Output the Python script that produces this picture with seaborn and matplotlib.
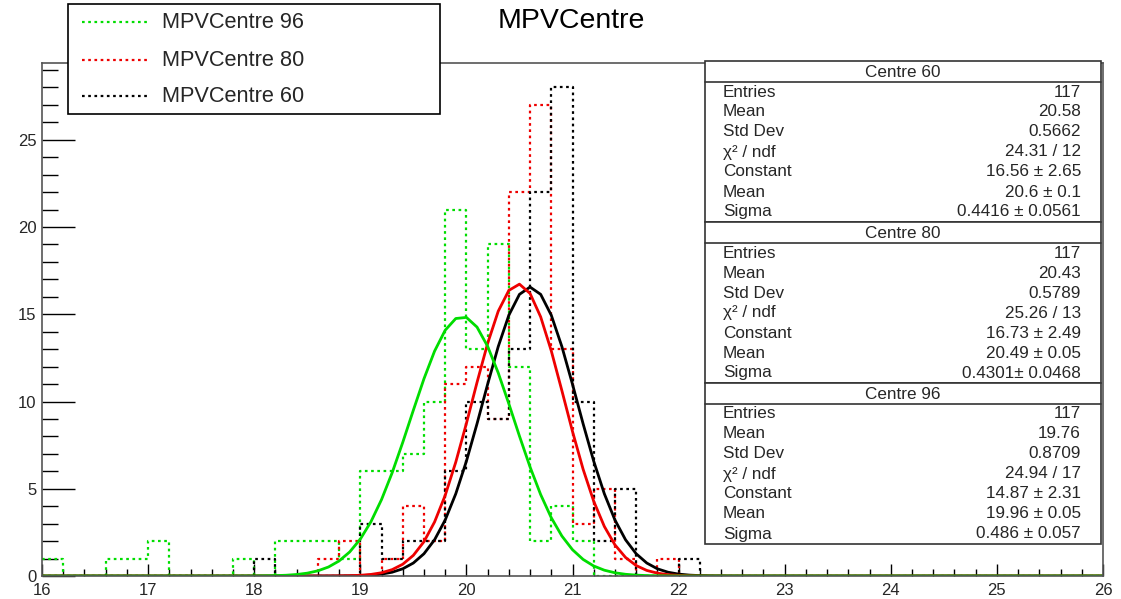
import numpy as np
import pandas as pd
import matplotlib
matplotlib.use("Agg")
import matplotlib.pyplot as plt
from matplotlib.patches import Rectangle
from matplotlib.lines import Line2D
from matplotlib.ticker import MultipleLocator
import seaborn as sns

# ---------------------------------------------------------------- binning
x_lo, x_hi, n_bins = 16.0, 26.0, 50
bin_edges = np.linspace(x_lo, x_hi, n_bins + 1)
bin_centres = 0.5 * (bin_edges[:-1] + bin_edges[1:])

# ---------------------------------------------------------------- bin contents (50 bins of 0.2)
counts_96 = [1, 0, 0, 1, 1, 2, 0, 0, 0, 1,
             0, 2, 2, 2, 1, 6, 6, 7, 10, 21,
             13, 19, 12, 2, 4, 2, 0, 0, 0, 0,
             0, 0, 0, 0, 0, 0, 0, 0, 0, 0,
             0, 0, 0, 0, 0, 0, 0, 0, 0, 0]
counts_80 = [0, 0, 0, 0, 0, 0, 0, 0, 0, 0,
             0, 0, 0, 1, 2, 0, 1, 4, 2, 11,
             12, 9, 22, 27, 13, 3, 5, 1, 0, 1,
             0, 0, 0, 0, 0, 0, 0, 0, 0, 0,
             0, 0, 0, 0, 0, 0, 0, 0, 0, 0]
counts_60 = [0, 0, 0, 0, 0, 0, 0, 0, 0, 0,
             1, 0, 0, 0, 0, 3, 1, 2, 2, 6,
             10, 9, 13, 22, 28, 10, 2, 5, 0, 0,
             1, 0, 0, 0, 0, 0, 0, 0, 0, 0,
             0, 0, 0, 0, 0, 0, 0, 0, 0, 0]

# ---------------------------------------------------------------- gaussian fit results (constant, mean, sigma)
fit_60 = (16.56, 20.6, 0.4416)
fit_80 = (16.73, 20.49, 0.4301)
fit_96 = (14.87, 19.96, 0.486)

# ---------------------------------------------------------------- statistics boxes
stat_names = ["Entries", "Mean", "Std Dev", "\u03c7\u00b2 / ndf", "Constant", "Mean", "Sigma"]
stats_60 = ["117", "20.58", "0.5662", "24.31 / 12", "16.56 \u00b1 2.65", "20.6 \u00b1 0.1", "0.4416 \u00b1 0.0561"]
stats_80 = ["117", "20.43", "0.5789", "25.26 / 13", "16.73 \u00b1 2.49", "20.49 \u00b1 0.05", "0.4301\u00b1 0.0468"]
stats_96 = ["117", "19.76", "0.8709", "24.94 / 17", "14.87 \u00b1 2.31", "19.96 \u00b1 0.05", "0.486 \u00b1 0.057"]

legend_labels = ["MPVCentre 96", "MPVCentre 80", "MPVCentre 60"]
stat_titles = ["Centre 60", "Centre 80", "Centre 96"]

col_green = "#00dd00"
col_red = "#ee0000"
col_black = "#000000"

sns.set_theme(style="white")
plt.rcParams["font.family"] = ["Liberation Sans", "DejaVu Sans"]

W, H = 1121, 599
fig = plt.figure(figsize=(W / 100, H / 100), dpi=100)
fig.patch.set_facecolor("white")


def fx(px):
    return px / W


def fy(py):
    return 1.0 - py / H


ax = fig.add_axes([fx(42), fy(576), fx(1103) - fx(42), fy(63) - fy(576)])
ax.set_facecolor("white")

dot = (0, (1.2, 1.6))
for counts, col in [(counts_96, col_green), (counts_80, col_red), (counts_60, col_black)]:
    hist_df = pd.DataFrame({"value": bin_centres, "count": np.asarray(counts, dtype=float)})
    sns.histplot(data=hist_df, x="value", weights="count", bins=n_bins, binrange=(x_lo, x_hi),
                 element="step", fill=False, color=col, linestyle=dot, linewidth=1.6, ax=ax)

# fitted gaussians, evaluated on 100 steps over the histogram range
xf = np.linspace(x_lo, x_hi, 101)
for (c, m, s), col in [(fit_60, col_black), (fit_80, col_red), (fit_96, col_green)]:
    fit_df = pd.DataFrame({"x": xf, "y": c * np.exp(-0.5 * ((xf - m) / s) ** 2)})
    sns.lineplot(data=fit_df, x="x", y="y", color=col, linewidth=2.0, estimator=None,
                 sort=False, ax=ax)

ax.set_xlim(x_lo, x_hi)
ax.set_ylim(0, 29.4)
ax.set_xlabel("")
ax.set_ylabel("")

ax.xaxis.set_major_locator(MultipleLocator(1))
ax.xaxis.set_minor_locator(MultipleLocator(0.2))
ax.yaxis.set_major_locator(MultipleLocator(5))
ax.yaxis.set_minor_locator(MultipleLocator(1))
ax.tick_params(axis="x", which="major", direction="in", length=8.5, width=1, color="black",
               bottom=True, top=False, labelsize=12, pad=5)
ax.tick_params(axis="x", which="minor", direction="in", length=5, width=1, color="black",
               bottom=True, top=False)
ax.tick_params(axis="y", which="major", direction="in", length=23.5, width=1, color="black",
               left=True, right=False, labelsize=12, pad=4)
ax.tick_params(axis="y", which="minor", direction="in", length=11.5, width=1, color="black",
               left=True, right=False)
for side in ["left", "bottom", "top", "right"]:
    ax.spines[side].set_visible(True)
    ax.spines[side].set_color("#555555")
    ax.spines[side].set_linewidth(1.2)

# title
fig.text(fx(571), fy(21), "MPVCentre", ha="center", va="center", fontsize=20.5, color="black")

# legend box
fig.add_artist(Rectangle((fx(68), fy(114)), fx(440) - fx(68), fy(4) - fy(114),
                         transform=fig.transFigure, facecolor="white", edgecolor="black",
                         linewidth=1.2, zorder=5))
for lab, col, ypx in zip(legend_labels, [col_green, col_red, col_black], [22, 60, 96]):
    fig.add_artist(Line2D([fx(82), fx(148)], [fy(ypx), fy(ypx)], transform=fig.transFigure,
                          color=col, linestyle=dot, linewidth=1.6, zorder=6))
    fig.text(fx(162), fy(ypx), lab, ha="left", va="center", fontsize=15.7, zorder=7)

# statistics boxes
box_tops = [61, 222, 383]
box_h = 161
for title, vals, top in zip(stat_titles, [stats_60, stats_80, stats_96], box_tops):
    fig.add_artist(Rectangle((fx(705), fy(top + box_h)), fx(1101) - fx(705), fy(top) - fy(top + box_h),
                             transform=fig.transFigure, facecolor="white", edgecolor="#333333",
                             linewidth=1.2, zorder=5))
    fig.add_artist(Line2D([fx(705), fx(1101)], [fy(top + 21), fy(top + 21)], transform=fig.transFigure,
                          color="#333333", linewidth=1.2, zorder=6))
    fig.text(fx(903), fy(top + 11.5), title, ha="center", va="center", fontsize=12.3, zorder=7)
    for k, (name, val) in enumerate(zip(stat_names, vals)):
        yk = top + 31 + 20 * k
        fig.text(fx(723), fy(yk), name, ha="left", va="center", fontsize=12.3, zorder=7)
        fig.text(fx(1081), fy(yk), val, ha="right", va="center", fontsize=12.3, zorder=7)

fig.savefig("out.png", dpi=100, facecolor="white")
